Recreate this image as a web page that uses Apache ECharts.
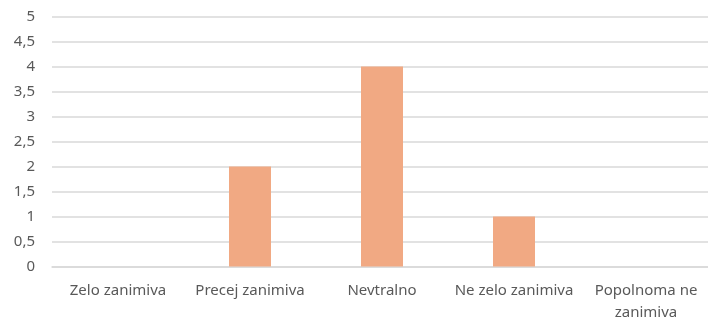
<!DOCTYPE html>
<html>
<head>
<meta charset="utf-8">
<script src="https://cdn.jsdelivr.net/npm/echarts@6/dist/echarts.min.js"></script>
<style>
  html, body { margin: 0; padding: 0; background: #fff; }
  #chart { width: 708px; height: 318px; }
</style>
</head>
<body>
<div id="chart"></div>
<script>
// podatki
const categories = ['Zelo zanimiva', 'Precej zanimiva', 'Nevtralno', 'Ne zelo zanimiva', 'Popolnoma ne\nzanimiva'];
const values = [0, 2, 4, 1, 0];

const chart = echarts.init(document.getElementById('chart'));

chart.setOption({
  animation: false,
  grid: { left: 52, top: 16.5, width: 660, height: 250, outerBoundsMode: 'none', containLabel: false },
  xAxis: {
    type: 'category',
    data: categories,
    axisLine: { lineStyle: { color: '#d9d9d9', width: 1.5 } },
    axisTick: { show: false },
    axisLabel: {
      color: '#595959',
      fontSize: 15,
      fontFamily: 'Noto Sans',
      margin: 13,
      lineHeight: 22,
      interval: 0
    }
  },
  yAxis: {
    type: 'value',
    min: 0,
    max: 5,
    interval: 0.5,
    axisLine: { show: false },
    axisTick: { show: false },
    splitLine: { lineStyle: { color: '#d9d9d9', width: 1.5 } },
    axisLabel: {
      color: '#595959',
      fontSize: 15,
      fontFamily: 'Noto Sans',
      margin: 17,
      formatter: v => String(v).replace('.', ',')
    }
  },
  series: [{
    type: 'bar',
    data: values,
    barWidth: 42,
    itemStyle: { color: '#f1a983' }
  }]
});
</script>
</body>
</html>
